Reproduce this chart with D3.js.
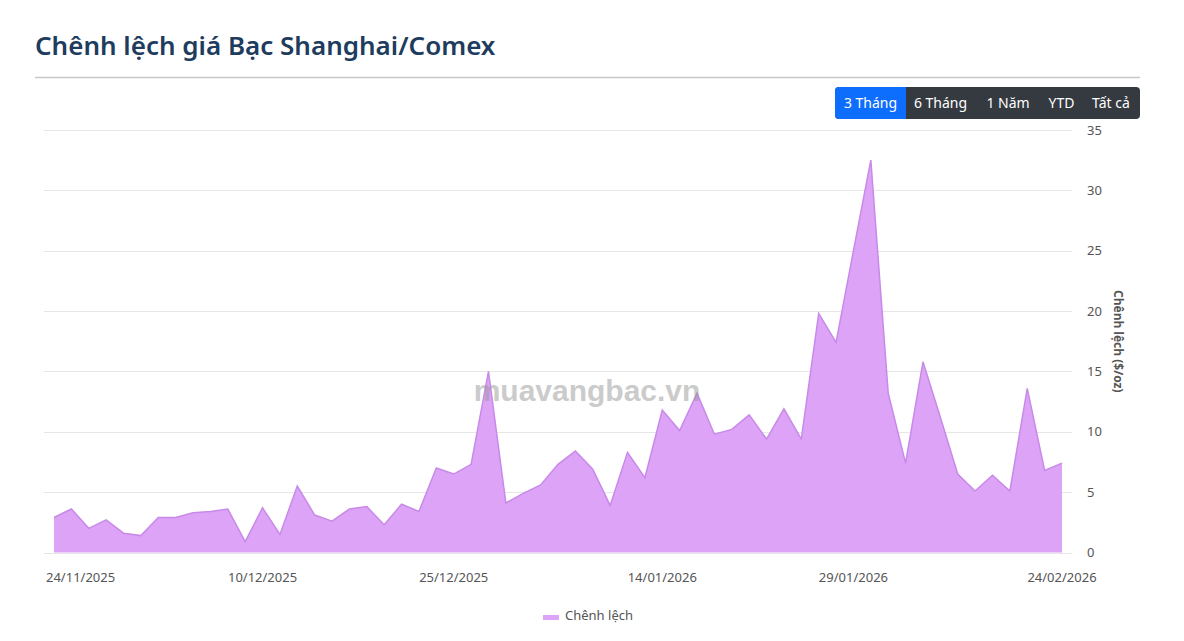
<!DOCTYPE html>
<html lang="vi">
<head>
    <meta charset="UTF-8">
    <title>Chênh lệch giá Bạc Shanghai/Comex</title>
    <script src="https://d3js.org/d3.v7.min.js"></script>
    <style>
        body {
            margin: 0;
            background: #fff;
            font-family: "Noto Sans", "Open Sans", sans-serif;
        }
        .grid line {
            stroke: #e6e6e6;
            stroke-width: 1px;
        }
        .area {
            fill: #dda3f7;
        }
        .line {
            fill: none;
            stroke: #c88ae8;
            stroke-width: 1.5px;
        }
        .tick-label {
            font-size: 13px;
            fill: #555;
        }
    </style>
</head>
<body>
    <svg width="1184" height="641"></svg>
    <script>
        // trading days shown on the chart (dd/mm)
        const dates = [
            "24/11/2025", "25/11/2025", "26/11/2025", "27/11/2025", "28/11/2025",
            "01/12/2025", "02/12/2025", "03/12/2025", "04/12/2025", "05/12/2025",
            "08/12/2025", "09/12/2025", "10/12/2025", "11/12/2025", "12/12/2025",
            "15/12/2025", "16/12/2025", "17/12/2025", "18/12/2025", "19/12/2025",
            "22/12/2025", "23/12/2025", "24/12/2025", "25/12/2025", "26/12/2025",
            "29/12/2025", "30/12/2025", "31/12/2025",
            "05/01/2026", "06/01/2026", "07/01/2026", "08/01/2026", "09/01/2026",
            "12/01/2026", "13/01/2026", "14/01/2026", "15/01/2026", "16/01/2026",
            "19/01/2026", "20/01/2026", "21/01/2026", "22/01/2026", "23/01/2026",
            "26/01/2026", "27/01/2026", "28/01/2026", "29/01/2026", "30/01/2026",
            "02/02/2026", "03/02/2026", "04/02/2026", "05/02/2026", "06/02/2026",
            "09/02/2026", "10/02/2026", "11/02/2026", "12/02/2026", "13/02/2026",
            "24/02/2026"
        ];

        // chênh lệch ($/oz)
        const spread = [
            2.9, 3.6, 2.0, 2.7, 1.6, 1.4, 2.9, 2.9, 3.3, 3.4,
            3.6, 0.9, 3.7, 1.5, 5.5, 3.1, 2.6, 3.6, 3.8, 2.3,
            4.0, 3.4, 7.0, 6.5, 7.3, 15.0, 4.1, 4.9, 5.6, 7.3,
            8.4, 6.9, 3.9, 8.3, 6.2, 11.8, 10.1, 13.2, 9.8, 10.2,
            11.4, 9.4, 11.9, 9.4, 19.8, 17.4, 25.0, 32.5, 13.2, 7.4,
            15.8, 11.2, 6.5, 5.1, 6.4, 5.1, 13.6, 6.8, 7.4
        ];

        const xTicks = ["24/11/2025", "10/12/2025", "25/12/2025", "14/01/2026", "29/01/2026", "24/02/2026"];
        const yTicks = [0, 5, 10, 15, 20, 25, 30, 35];

        const rangeButtons = ["3 Tháng", "6 Tháng", "1 Năm", "YTD", "Tất cả"];

        const svg = d3.select("svg");

        // title + rule
        svg.append("text")
            .attr("x", 35)
            .attr("y", 55)
            .attr("font-size", 26)
            .attr("font-weight", 600)
            .attr("fill", "#1d3c5e")
            .text("Chênh lệch giá Bạc Shanghai/Comex");

        svg.append("line")
            .attr("x1", 35).attr("x2", 1140)
            .attr("y1", 77.5).attr("y2", 77.5)
            .attr("stroke", "#c8c8c8")
            .attr("stroke-width", 1.5);

        const plot = { left: 44, right: 1072, top: 130, bottom: 552.5 };

        const x = d3.scalePoint()
            .domain(dates)
            .range([54, 1062]);

        const y = d3.scaleLinear()
            .domain([0, 35])
            .range([plot.bottom, plot.top]);

        // gridlines
        svg.append("g")
            .attr("class", "grid")
            .selectAll("line")
            .data(yTicks)
            .enter().append("line")
            .attr("x1", plot.left)
            .attr("x2", plot.right)
            .attr("y1", d => Math.round(y(d)) + 0.5)
            .attr("y2", d => Math.round(y(d)) + 0.5);

        // y labels on the right
        svg.append("g")
            .selectAll("text")
            .data(yTicks)
            .enter().append("text")
            .attr("class", "tick-label")
            .attr("x", 1087)
            .attr("y", d => y(d) + 4.5)
            .text(d => d);

        svg.append("text")
            .attr("transform", `translate(1114, ${(plot.top + plot.bottom) / 2}) rotate(90)`)
            .attr("text-anchor", "middle")
            .attr("font-size", 12)
            .attr("font-weight", 700)
            .attr("fill", "#555")
            .text("Chênh lệch ($/oz)");

        // area
        const area = d3.area()
            .x((d, i) => x(dates[i]))
            .y0(y(0))
            .y1(d => y(d));

        const line = d3.line()
            .x((d, i) => x(dates[i]))
            .y(d => y(d));

        svg.append("path")
            .datum(spread)
            .attr("class", "area")
            .attr("d", area);

        svg.append("path")
            .datum(spread)
            .attr("class", "line")
            .attr("d", line);

        // x labels
        svg.append("g")
            .selectAll("text")
            .data(xTicks)
            .enter().append("text")
            .attr("class", "tick-label")
            .attr("x", (d, i) => i === 0 ? 46 : x(d))
            .attr("y", 582)
            .attr("text-anchor", (d, i) => i === 0 ? "start" : "middle")
            .text(d => d);

        // watermark
        svg.append("text")
            .attr("x", 587)
            .attr("y", 401)
            .attr("text-anchor", "middle")
            .attr("font-family", "'Liberation Sans', Arial, sans-serif")
            .attr("font-size", 30)
            .attr("font-weight", 700)
            .attr("fill", "#999")
            .attr("opacity", 0.5)
            .text("muavangbac.vn");

        // range selector buttons
        const btnWidths = [71, 69, 66, 41, 58];
        let bx = 835;
        const btns = svg.append("g");
        btns.append("rect")
            .attr("x", 835).attr("y", 87)
            .attr("width", 305).attr("height", 32)
            .attr("rx", 4)
            .attr("fill", "#343a40");
        rangeButtons.forEach((label, i) => {
            if (i === 0) {
                btns.append("path")
                    .attr("d", `M${bx + 4},87 H${bx + btnWidths[0]} V119 H${bx + 4} Q${bx},119 ${bx},115 V91 Q${bx},87 ${bx + 4},87 Z`)
                    .attr("fill", "#0d6efd");
            }
            btns.append("text")
                .attr("x", bx + btnWidths[i] / 2)
                .attr("y", 108)
                .attr("text-anchor", "middle")
                .attr("font-size", 14)
                .attr("fill", "#fff")
                .text(label);
            bx += btnWidths[i];
        });

        // legend
        svg.append("rect")
            .attr("x", 543).attr("y", 615)
            .attr("width", 16).attr("height", 5)
            .attr("fill", "#dda3f7");
        svg.append("text")
            .attr("x", 565)
            .attr("y", 620)
            .attr("font-size", 13)
            .attr("fill", "#555")
            .text("Chênh lệch");
    </script>
</body>
</html>
